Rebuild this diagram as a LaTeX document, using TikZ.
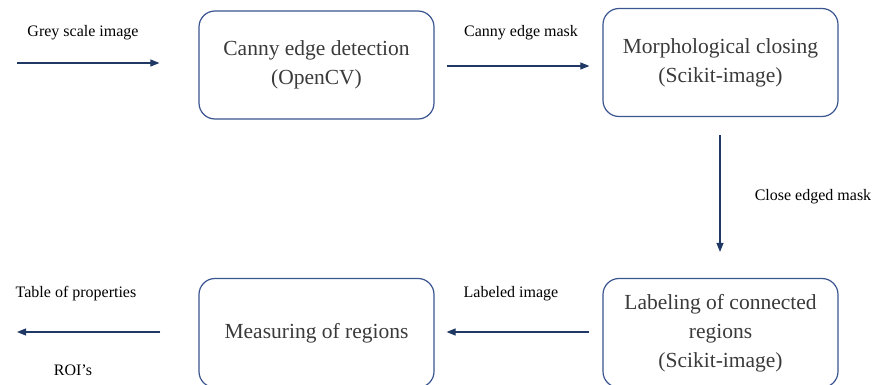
\documentclass[tikz,border=0pt]{standalone}
\usepackage{fontspec}
\setmainfont{Liberation Serif}
\usetikzlibrary{arrows.meta}
\definecolor{boxline}{HTML}{3B5590}
\definecolor{arrowc}{HTML}{1F3864}
\definecolor{boxtext}{HTML}{3A3A3A}
\begin{document}
\begin{tikzpicture}[x=1pt,y=-1pt,
  procbox/.style={draw=boxline, line width=1.2pt, rounded corners=16pt,
    minimum width=235pt, minimum height=108pt, align=center,
    text=boxtext, font=\fontsize{21.5}{29}\selectfont, inner sep=0pt},
  arr/.style={draw=arrowc, line width=1.1pt, -{Triangle[length=9pt,width=7pt]}},
  lbl/.style={font=\fontsize{16}{19}\selectfont, text=black, inner sep=0pt}]
\useasboundingbox (0,0) rectangle (876,385);
\node[procbox] (B1) at (316.5,65) {Canny edge detection\\(OpenCV)};
\node[procbox] (B2) at (720.5,62.5) {Morphological closing\\(Scikit-image)};
\node[procbox, minimum height=109pt] (B3) at (720.5,333) {Labeling of connected\\regions\\(Scikit-image)};
\node[procbox, minimum height=109pt] (B4) at (316.5,333) {Measuring of regions};
\coordinate (in) at (17,63);
\coordinate (out) at (17,332);
\draw[arr] (in) -- ([xshift=-39pt]B1.west |- in);
\draw[arr] ([xshift=12pt]B1.east |- 0,66) -- ([xshift=-13pt]B2.west |- 0,66);
\draw[arr] ([shift={(0,18)}]B2.south -| 720,0) -- ([shift={(0,-26)}]B3.north -| 720,0);
\draw[arr] ([xshift=-13pt]B3.west |- 0,332) -- ([xshift=12pt]B4.east |- 0,332);
\draw[arr] ([xshift=-38pt]B4.west |- out) -- (out);
\node[lbl] (l1) at (83,33) {Grey scale image};
\node[lbl] (l2) at (521,33) {Canny edge mask};
\node[lbl] (l3) at (813,197) {Close edged mask};
\node[lbl] (l4) at (511,294) {Labeled image};
\node[lbl] (l5) at (76,294) {Table of properties};
\node[lbl] (l6) at (73,370) {ROI’s};
\end{tikzpicture}
\end{document}
